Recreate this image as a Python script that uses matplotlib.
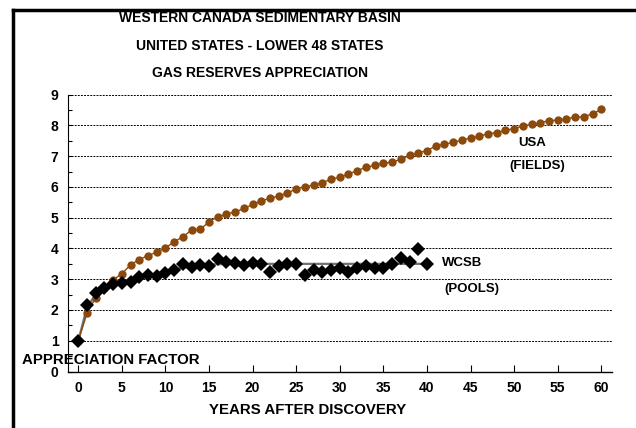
import matplotlib
matplotlib.use("Agg")
import matplotlib.pyplot as plt
from matplotlib.lines import Line2D
from matplotlib.ticker import MultipleLocator

plt.rcParams['font.family'] = ['Liberation Sans', 'DejaVu Sans']
plt.rcParams['font.weight'] = 'bold'

# USA (fields) appreciation factor, years 0..60
usa_years = list(range(0, 61))
usa_factor = [1.00, 1.90, 2.40, 2.72, 2.98, 3.18, 3.47, 3.64, 3.77, 3.88,
              4.02, 4.22, 4.38, 4.60, 4.62, 4.87, 5.03, 5.12, 5.19, 5.30,
              5.43, 5.55, 5.63, 5.71, 5.80, 5.94, 6.01, 6.06, 6.14, 6.25,
              6.32, 6.42, 6.53, 6.64, 6.70, 6.77, 6.81, 6.90, 7.03, 7.11,
              7.18, 7.33, 7.39, 7.45, 7.52, 7.59, 7.65, 7.73, 7.77, 7.84,
              7.90, 7.98, 8.04, 8.08, 8.16, 8.17, 8.21, 8.27, 8.28, 8.38,
              8.52]

# WCSB (pools) appreciation factor, years 0..40
wcsb_years = list(range(0, 41))
wcsb_factor = [1.00, 2.17, 2.55, 2.73, 2.85, 2.89, 2.90, 3.06, 3.14, 3.12,
               3.21, 3.29, 3.49, 3.41, 3.45, 3.43, 3.65, 3.57, 3.54, 3.47,
               3.52, 3.50, 3.23, 3.44, 3.48, 3.51, 3.15, 3.29, 3.25, 3.30,
               3.35, 3.25, 3.38, 3.44, 3.38, 3.35, 3.51, 3.70, 3.57, 3.99,
               3.51]

# WCSB fitted curve
wcsb_fit_years = [0, 1, 2, 3, 4, 5, 6, 7, 8, 9, 10, 11, 12, 13, 14, 15, 16,
                  20, 25, 30, 35, 40]
wcsb_fit = [1.0, 2.1, 2.5, 2.7, 2.83, 2.92, 3.0, 3.07, 3.13, 3.19, 3.25,
            3.31, 3.37, 3.42, 3.46, 3.48, 3.49, 3.5, 3.5, 3.5, 3.5, 3.5]

title_lines = ["WESTERN CANADA SEDIMENTARY BASIN",
               "UNITED STATES - LOWER 48 STATES",
               "GAS RESERVES APPRECIATION"]

W, H = 636, 428
brown = '#8b4a0c'

fig = plt.figure(figsize=(W / 100, H / 100), dpi=100)
ax = fig.add_axes([68.3 / W, 1 - 371.5 / H, (611.7 - 68.3) / W, (371.5 - 94.7) / H])

ax.plot(wcsb_fit_years, wcsb_fit, color='#707070', lw=1.6, zorder=2)
ax.plot(usa_years, usa_factor, color=brown, lw=1.0, marker='o', ms=6,
        markeredgewidth=0, zorder=3)
ax.plot(wcsb_years, wcsb_factor, ls='none', color='black', marker='D', ms=7.3,
        markeredgewidth=0, zorder=4)

ax.set_xlim(-1.15, 61.2)
ax.set_ylim(0, 9)
ax.xaxis.set_major_locator(MultipleLocator(5))
ax.yaxis.set_major_locator(MultipleLocator(1))
ax.yaxis.set_minor_locator(MultipleLocator(0.5))
ax.tick_params(axis='x', direction='in', length=5, width=0.8, pad=7, labelsize=10)
ax.tick_params(axis='y', which='major', direction='in', length=3, width=0.8, pad=7, labelsize=10)
ax.tick_params(axis='y', which='minor', direction='in', length=3, width=0.8)
for lab in ax.get_xticklabels() + ax.get_yticklabels():
    lab.set_fontweight('bold')

ax.grid(axis='y', which='major', color='black', lw=0.7, ls=(0, (2, 1.2)))
ax.spines['top'].set_visible(False)
ax.spines['right'].set_visible(False)
ax.spines['left'].set_linewidth(0.8)
ax.spines['bottom'].set_linewidth(1.0)
ax.set_axisbelow(True)

for i, t in enumerate(title_lines):
    fig.text(260 / W, 1 - (18 + 27.5 * i) / H, t, ha='center', va='center',
             fontsize=10, fontweight='bold')

fig.text(532 / W, 1 - 143 / H, "USA", ha='center', va='center', fontsize=9.5, fontweight='bold')
fig.text(537 / W, 1 - 166 / H, "(FIELDS)", ha='center', va='center', fontsize=9.5, fontweight='bold')
fig.text(462 / W, 1 - 263 / H, "WCSB", ha='center', va='center', fontsize=9.5, fontweight='bold')
fig.text(472 / W, 1 - 289 / H, "(POOLS)", ha='center', va='center', fontsize=9.5, fontweight='bold')

fig.text(111 / W, 1 - 360 / H, "APPRECIATION FACTOR", ha='center', va='center',
         fontsize=10.8, fontweight='bold')
fig.text(308 / W, 1 - 410 / H, "YEARS AFTER DISCOVERY", ha='center', va='center',
         fontsize=10.8, fontweight='bold')

# outer frame (top and left edges)
fig.add_artist(Line2D([12.5 / W, 1.0], [1 - 9.5 / H, 1 - 9.5 / H], color='black', lw=2.5,
                      transform=fig.transFigure))
fig.add_artist(Line2D([12.5 / W, 12.5 / W], [1 - 9.5 / H, 0.0], color='black', lw=2.5,
                      transform=fig.transFigure))

fig.savefig("out.png", dpi=100)
